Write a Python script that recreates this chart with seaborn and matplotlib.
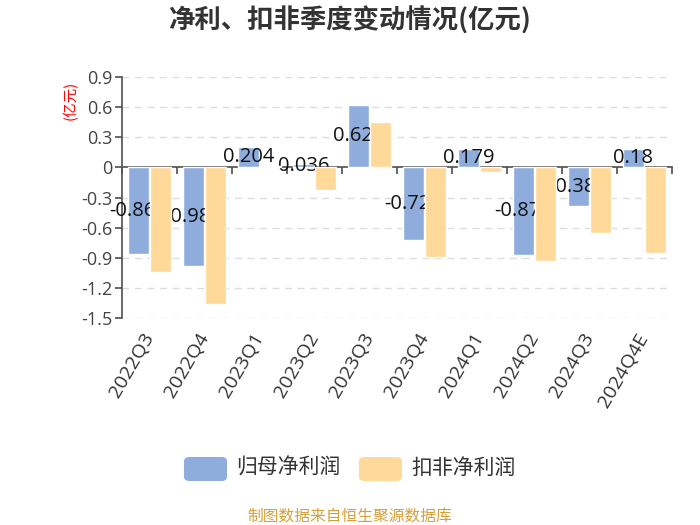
import matplotlib
matplotlib.use("Agg")
import matplotlib.pyplot as plt
from matplotlib.patches import FancyBboxPatch
import numpy as np
import pandas as pd
import seaborn as sns

quarters = ["2022Q3", "2022Q4", "2023Q1", "2023Q2", "2023Q3",
            "2023Q4", "2024Q1", "2024Q2", "2024Q3", "2024Q4E"]
net_profit = [-0.866, -0.985, 0.204, 0.036, 0.625, -0.728, 0.179, -0.873, -0.384, 0.18]
deducted_profit = [-1.04, -1.36, 0.01, -0.23, 0.45, -0.89, -0.05, -0.93, -0.65, -0.85]
series_names = ["归母净利润", "扣非净利润"]
yticks = [0.9, 0.6, 0.3, 0, -0.3, -0.6, -0.9, -1.2, -1.5]

df = pd.DataFrame({
    "quarter": quarters * 2,
    "value": net_profit + deducted_profit,
    "series": [series_names[0]] * len(quarters) + [series_names[1]] * len(quarters),
})

sns.set_theme(style="white")
plt.rcParams["font.family"] = ["Noto Sans CJK SC", "DejaVu Sans"]
plt.rcParams["axes.unicode_minus"] = False
num_font = ["Open Sans", "Noto Sans CJK SC"]

colors = ["#8eaddc", "#ffd999"]
fig = plt.figure(figsize=(7, 5.25), dpi=100)
ax = fig.add_axes([122 / 700, 1 - 318 / 525, 550 / 700, 241 / 525])

sns.barplot(data=df, x="quarter", y="value", hue="series", palette=colors,
            width=0.8, gap=0.08, legend=False, ax=ax, saturation=1, zorder=3)
# orange bars sit above the value labels
for bar in ax.containers[1]:
    bar.set_zorder(5)

ax.set_ylim(-1.5, 0.9)
ax.set_xlim(-0.5, len(quarters) - 0.5)
ax.set_yticks(yticks)
ax.set_yticklabels([("%g" % t) for t in yticks], fontsize=13, color="#444444",
                   family=num_font)
for t in yticks:
    if t != 0:
        ax.axhline(t, color="#dddddd", lw=1, ls=(0, (5, 4)), zorder=0)

ax.set_xlabel("")
ax.set_ylabel("(亿元)", color="red", fontsize=10.5, labelpad=2)
ax.yaxis.set_label_coords(-0.08, 0.905)

for s in ["top", "right"]:
    ax.spines[s].set_visible(False)
ax.spines["left"].set_color("#555555")
ax.spines["bottom"].set_position(("data", 0))
ax.spines["bottom"].set_color("#555555")
ax.tick_params(axis="y", left=True, length=5, color="#555555", pad=2)
ax.set_xticks(np.arange(len(quarters) + 1) - 0.5)
ax.set_xticklabels([])
ax.tick_params(axis="x", bottom=True, length=5, color="#555555", direction="out")

sec = ax.secondary_xaxis(0)
sec.set_xticks(range(len(quarters)))
sec.set_xticklabels(quarters, rotation=60, ha="right", va="center",
                    rotation_mode="anchor", fontsize=14, color="#333333",
                    family=num_font)
sec.tick_params(length=0, pad=12)
sec.spines["bottom"].set_visible(False)

for bar, v in zip(ax.containers[0], net_profit):
    ax.text(bar.get_x() + bar.get_width() / 2, v / 2, "%g" % v,
            ha="center", va="center", fontsize=14.5, color="#111111",
            family=num_font, zorder=4)

fig.text(0.5, 1 - 21 / 525, "净利、扣非季度变动情况(亿元)", ha="center", va="center",
         fontsize=19, fontweight="bold", color="#333333")

# legend
for i, (name, c) in enumerate(zip(series_names, colors)):
    x0 = 184 + i * 175
    fig.patches.append(FancyBboxPatch((x0 / 700, 1 - 481 / 525), 43 / 700, 24 / 525,
                                      boxstyle="round,pad=0,rounding_size=0.008",
                                      transform=fig.transFigure, fc=c, ec="none"))
    fig.text((x0 + 52) / 700, 1 - 468 / 525, name, ha="left", va="center",
             fontsize=15, color="#333333")

fig.text(0.5, 1 - 516 / 525, "制图数据来自恒生聚源数据库", ha="center", va="center",
         fontsize=11.3, color="#d4a03a")

fig.savefig("out.png", dpi=100)
